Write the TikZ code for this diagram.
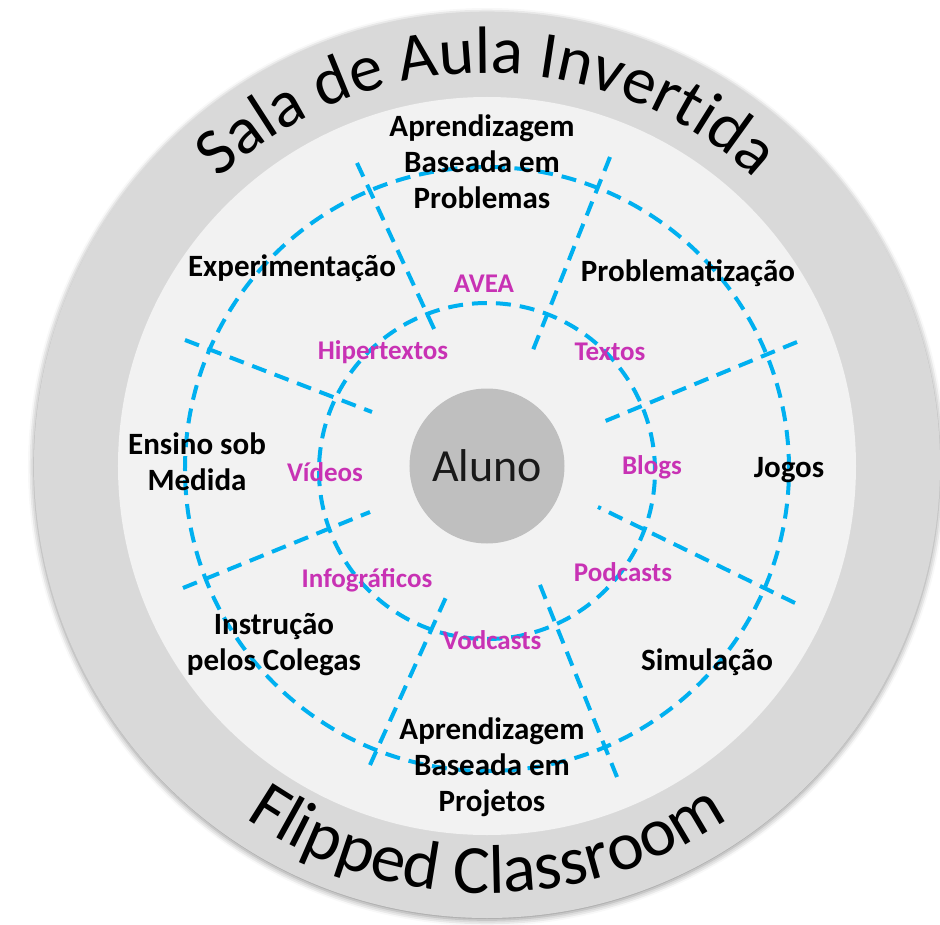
\documentclass[tikz,border=0pt]{standalone}
\usepackage{fontspec}
\setmainfont{Carlito}
\usetikzlibrary{decorations.text,shadows.blur}

\definecolor{ringgray}{HTML}{D9D9D9}
\definecolor{diskgray}{HTML}{F2F2F2}
\definecolor{alunogray}{HTML}{BFBFBF}
\definecolor{dashblue}{HTML}{00B0F0}
\definecolor{toolpink}{HTML}{C832B4}

\tikzset{%
	method/.style   = {align=center, font=\bfseries\fontsize{31}{36}\selectfont, text=black}, % outer ring
	tool/.style     = {font=\bfseries\fontsize{27}{30}\selectfont, text=toolpink}, % inner ring
	sep/.style      = {draw=dashblue, line width=4pt, dash pattern=on 15pt off 9pt},
	ringtext/.style = {decorate, decoration={text along path, text align=center, text={#1}}},
}

\begin{document}
\begin{tikzpicture}[x=1pt, y=1pt]
	\useasboundingbox (-487,-459) rectangle (453,465);
	\fill[ringgray, blur shadow={shadow xshift=0pt, shadow yshift=-2pt, shadow blur radius=6pt, shadow opacity=45}] (0,0) circle[radius=453];
	\fill[diskgray] (0,-1) circle[radius=369];
	\draw[sep] (0,-4) circle[radius=302];
	\draw[sep] (0,-6) circle[radius=168];
	
	% sector borders
	\draw[sep] (-302,125) -- (-115,53);
	\draw[sep] (-304,-123) -- (-117,-47);
	\draw[sep] (-130,302) -- (-51,132);
	\draw[sep] (123,308) -- (46,115);
	\draw[sep] (310,123) -- (116,43);
	\draw[sep] (308,-138) -- (111,-42);
	\draw[sep] (130,-312) -- (51,-115);
	\draw[sep] (-117,-300) -- (-40,-130);
	
	\path[ringtext={|\fontsize{67}{67}\selectfont|Sala de Aula Invertida}] (140:392) arc[start angle=140, end angle=40, radius=392];
	\path[ringtext={|\fontsize{69}{69}\selectfont|Flipped Classroom}] (220:428) arc[start angle=220, end angle=320, radius=428];
	
	\node[circle, fill=alunogray, minimum size=155pt, text={black!90}, font=\fontsize{46}{46}\selectfont] (aluno) at (0,-1) {Aluno};
	
	\node[method] (abprobl) at (-5,303) {Aprendizagem\\Baseada em\\Problemas};
	\node[method] (problem) at (201,192) {Problematização};
	\node[method] (jogos) at (302,-5) {Jogos};
	\node[method] (simul) at (220,-197) {Simulação};
	\node[method] (abproj) at (5,-302) {Aprendizagem\\Baseada em\\Projetos};
	\node[method] (colegas) at (-213,-180) {Instrução\\pelos Colegas};
	\node[method] (medida) at (-290,3) {Ensino sob\\Medida};
	\node[method] (experim) at (-195,197) {Experimentação};
	
	\node[tool] (avea) at (-3,181) {AVEA};
	\node[tool] (textos) at (123,113) {Textos};
	\node[tool] (blogs) at (165,-2) {Blogs};
	\node[tool] (podcasts) at (136,-107) {Podcasts};
	\node[tool] (vodcasts) at (5,-175) {Vodcasts};
	\node[tool] (infogr) at (-120,-115) {Infográficos};
	\node[tool] (videos) at (-162,-7) {Vídeos};
	\node[tool] (hipert) at (-104,113) {Hipertextos};
\end{tikzpicture}
\end{document}
